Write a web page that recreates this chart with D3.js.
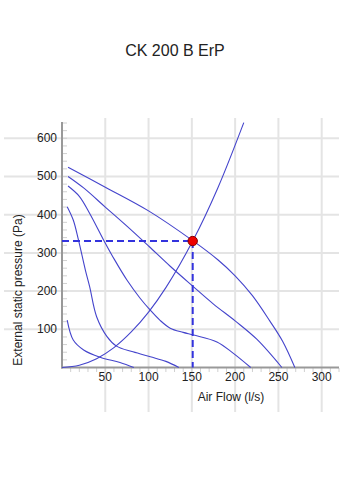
<!DOCTYPE html>
<html>
<head>
<meta charset="utf-8">
<script src="https://cdn.jsdelivr.net/npm/d3@7"></script>
<style>
  body { margin: 0; background: #fff; }
  svg { display: block; font-family: "Liberation Sans", Arial, sans-serif; }
</style>
</head>
<body>
<svg id="chart" width="350" height="500"></svg>
<script>
// ---------------- data ----------------
var title = "CK 200 B ErP";
var xLabel = "Air Flow (l/s)";
var yLabel = "External static pressure (Pa)";
var xTicks = [50, 100, 150, 200, 250, 300];
var yTicks = [100, 200, 300, 400, 500, 600];

// fan curves (flow l/s, pressure Pa)
var fan1 = [[7,524],[50,472],[100,410],[151,332],[180,282],[200,240],[220,188],[240,122],[255,68],[269,0]];
var fan2 = [[7,500],[25,470],[50,420],[75,370],[100,318],[125,265],[150,215],[175,166],[200,122],[225,74],[254,0]];
var fan3 = [[7,475],[20,448],[32,403],[48,334],[61,281],[75,229],[90,182],[102,150],[113,124],[125,103],[140,92],[152,85],[179,67],[198,37],[218,0]];
var fan4 = [[6,421],[13,386],[19,334],[27,255],[32,211],[40,133],[52,81],[63,56],[82,41],[102,28],[120,16],[135,0]];
var fan5 = [[6,124],[13,72],[25,46],[44,27],[67,13],[83,0]];
var fanCurves = [fan1, fan2, fan3, fan4, fan5];

// system curve
var system = [[0,0],[20,6],[40,23],[60,52],[80,93],[100,145],[120,209],[151,331],[180,470],[210,641]];

// working point
var workPoint = [151, 331];

// ---------------- chart ----------------
var svg = d3.select("#chart");

var x = d3.scaleLinear().domain([0, 320]).range([62, 339]);
var y = d3.scaleLinear().domain([0, 640]).range([367.5, 123]);

// title
svg.append("text")
    .attr("x", 175).attr("y", 56)
    .attr("text-anchor", "middle")
    .style("font-size", "16px")
    .style("fill", "#222")
    .text(title);

// grid
var grid = svg.append("g");
grid.selectAll(".hgrid").data(yTicks).enter().append("line")
    .attr("x1", 4).attr("x2", 339)
    .attr("y1", function(d){ return y(d); }).attr("y2", function(d){ return y(d); })
    .attr("stroke", "#e4e4e4").attr("stroke-width", 2);
grid.selectAll(".vgrid").data(xTicks).enter().append("line")
    .attr("x1", function(d){ return x(d); }).attr("x2", function(d){ return x(d); })
    .attr("y1", 118).attr("y2", 412)
    .attr("stroke", "#e4e4e4").attr("stroke-width", 2);

// minor ticks
var xMinor = d3.range(10, 321, 10);
var yMinor = d3.range(20, 641, 20);
grid.selectAll(".xminor").data(xMinor).enter().append("line")
    .attr("x1", function(d){ return x(d); }).attr("x2", function(d){ return x(d); })
    .attr("y1", 368).attr("y2", 372)
    .attr("stroke", "#d0d0d0").attr("stroke-width", 1);
grid.selectAll(".yminor").data(yMinor).enter().append("line")
    .attr("x1", 62).attr("x2", 67)
    .attr("y1", function(d){ return y(d); }).attr("y2", function(d){ return y(d); })
    .attr("stroke", "#d0d0d0").attr("stroke-width", 1);

// axis lines
svg.append("line").attr("x1", 62).attr("x2", 62).attr("y1", 122).attr("y2", 368.5)
    .attr("stroke", "#999").attr("stroke-width", 2);
svg.append("line").attr("x1", 61).attr("x2", 339).attr("y1", 367.5).attr("y2", 367.5)
    .attr("stroke", "#999").attr("stroke-width", 2);

// tick labels
svg.selectAll(".xlab").data(xTicks).enter().append("text")
    .attr("x", function(d){ return x(d); }).attr("y", 381)
    .attr("text-anchor", "middle")
    .style("font-size", "12px").style("fill", "#222")
    .text(function(d){ return d; });
svg.selectAll(".ylab").data(yTicks).enter().append("text")
    .attr("x", 57).attr("y", function(d){ return y(d) + 4; })
    .attr("text-anchor", "end")
    .style("font-size", "12px").style("fill", "#222")
    .text(function(d){ return d; });

// axis titles
svg.append("text")
    .attr("x", 231).attr("y", 401)
    .attr("text-anchor", "middle")
    .style("font-size", "12px").style("fill", "#222")
    .text(xLabel);
svg.append("text")
    .attr("transform", "translate(22,290) rotate(-90)")
    .attr("text-anchor", "middle")
    .style("font-size", "12px").style("fill", "#222")
    .text(yLabel);

// curves
var line = d3.line()
    .x(function(d){ return x(d[0]); })
    .y(function(d){ return y(d[1]); })
    .curve(d3.curveCatmullRom.alpha(0.5));

svg.selectAll(".fan").data(fanCurves).enter().append("path")
    .attr("d", line)
    .attr("fill", "none")
    .attr("stroke", "#4444cc")
    .attr("stroke-width", 1.1);

svg.append("path").datum(system)
    .attr("d", line)
    .attr("fill", "none")
    .attr("stroke", "#4444cc")
    .attr("stroke-width", 1.1);

// working point guides
svg.append("line")
    .attr("x1", x(0)).attr("x2", x(workPoint[0]))
    .attr("y1", y(workPoint[1])).attr("y2", y(workPoint[1]))
    .attr("stroke", "#3333dd").attr("stroke-width", 2)
    .attr("stroke-dasharray", "7,4");
svg.append("line")
    .attr("x1", x(workPoint[0])).attr("x2", x(workPoint[0]))
    .attr("y1", y(workPoint[1])).attr("y2", y(0))
    .attr("stroke", "#3333dd").attr("stroke-width", 2)
    .attr("stroke-dasharray", "7,4");

svg.append("circle")
    .attr("cx", x(workPoint[0])).attr("cy", y(workPoint[1]))
    .attr("r", 4.7)
    .attr("fill", "#ee0000")
    .attr("stroke", "#880000").attr("stroke-width", 1);
</script>
</body>
</html>
